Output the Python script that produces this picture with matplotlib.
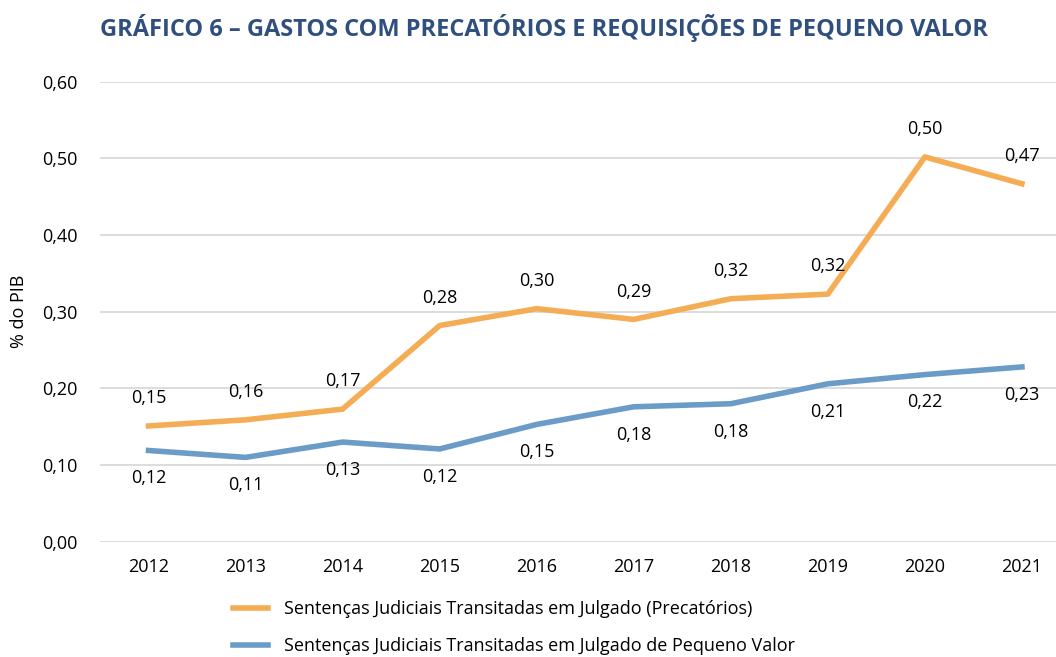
import matplotlib.pyplot as plt
from matplotlib import font_manager

anos = ['2012', '2013', '2014', '2015', '2016', '2017', '2018', '2019', '2020', '2021']
precatorios = [0.151, 0.159, 0.173, 0.282, 0.304, 0.290, 0.317, 0.323, 0.502, 0.467]
pequeno_valor = [0.119, 0.110, 0.130, 0.121, 0.153, 0.176, 0.180, 0.206, 0.218, 0.228]
yticks = [0.0, 0.1, 0.2, 0.3, 0.4, 0.5, 0.6]

nomes = {f.name for f in font_manager.fontManager.ttflist}
fonte = 'Liberation Sans Narrow' if 'Liberation Sans Narrow' in nomes else 'Open Sans'
plt.rcParams['font.family'] = [fonte, 'DejaVu Sans']

cor_laranja = '#F5AD55'
cor_azul = '#6B9BC7'

fig = plt.figure(figsize=(10.56, 6.57), dpi=100)
ax = fig.add_axes([0.0947, 0.1755, 0.919, 0.700])

x = range(len(anos))
ax.plot(x, precatorios, color=cor_laranja, lw=4,
        label='Sentenças Judiciais Transitadas em Julgado (Precatórios)')
ax.plot(x, pequeno_valor, color=cor_azul, lw=4,
        label='Sentenças Judiciais Transitadas em Julgado de Pequeno Valor')

# rótulos dos valores
for i, v in enumerate(precatorios):
    ax.annotate('{:.2f}'.format(v).replace('.', ','), (i, v), xytext=(0, 20),
                textcoords='offset points', ha='center', va='center', fontsize=13)
for i, v in enumerate(pequeno_valor):
    ax.annotate('{:.2f}'.format(v).replace('.', ','), (i, v), xytext=(0, -20),
                textcoords='offset points', ha='center', va='center', fontsize=13)

ax.set_xlim(-0.5, len(anos) - 0.5)
ax.set_ylim(0, 0.6)
ax.set_xticks(list(x))
ax.set_xticklabels(anos, fontsize=13)
ax.set_yticks(yticks)
ax.set_yticklabels(['{:.2f}'.format(t).replace('.', ',') for t in yticks], fontsize=13)
ax.tick_params(length=0, pad=16)
ax.tick_params(axis='x', pad=12)
for s in ax.spines.values():
    s.set_visible(False)
ax.grid(axis='y', color='#D9D9D9', lw=1.3)
ax.set_axisbelow(True)
ax.set_ylabel('% do PIB', fontsize=13, labelpad=10)

fig.text(0.515, 0.958, 'GRÁFICO 6 – GASTOS COM PRECATÓRIOS E REQUISIÇÕES DE PEQUENO VALOR',
         ha='center', va='center', fontsize=17, fontweight='bold', color='#2F4F7F')

fig.legend(loc='upper left', bbox_to_anchor=(0.214, 0.097), frameon=False,
           fontsize=13, handlelength=1.9, handletextpad=0.9, labelspacing=1.05,
           borderaxespad=0)

fig.savefig('out.png', dpi=100)
